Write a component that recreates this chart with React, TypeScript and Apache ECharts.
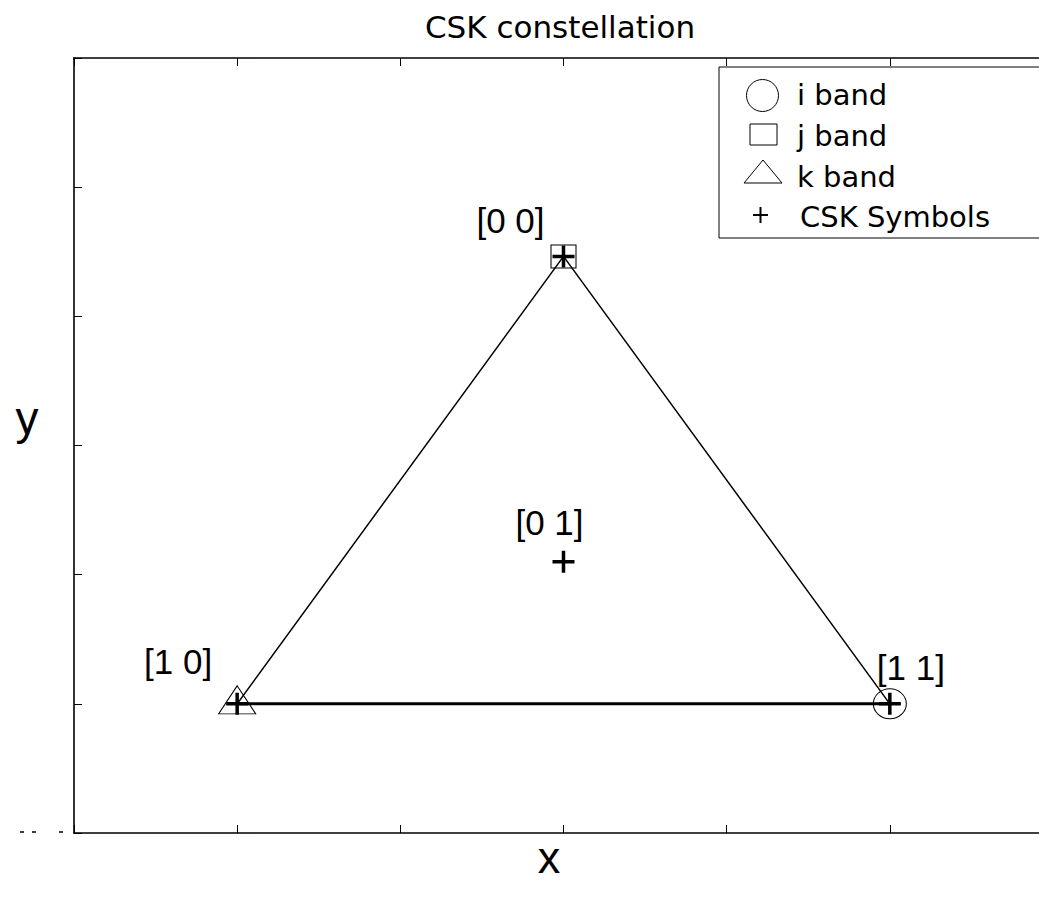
import React, { useEffect, useRef } from "react";
import * as echarts from "echarts";

// ---- data ----
const CSK_X = [0, 0, -1, 1];
const CSK_Y = [1.732, 0.55, 0, 0];
const CSK_LABELS = ["[0 0]", "[0 1]", "[1 0]", "[1 1]"];

const EDGE_X = [-1, 0, 1];
const EDGE_Y = [0, 1.732, 0];
const BASE_X = [-1, 1];
const BASE_Y = [0, 0];

const I_BAND_X = [1];
const I_BAND_Y = [0];
const J_BAND_X = [0];
const J_BAND_Y = [1.732];
const K_BAND_X = [-1];
const K_BAND_Y = [0];

const LEGEND_NAMES = ["i band", "j band", "k band", "CSK Symbols"];
const TITLE = "CSK constellation";
const X_NAME = "x";
const Y_NAME = "y";

const X_MIN = -1.5;
const X_MAX = 1.5;
const Y_MIN = -0.5;
const Y_MAX = 2.5;
const TICK_STEP = 0.5;

// ---- styles (pixel offsets of the text labels) ----
const LABEL_OFFSETS = [
  [-53, -36],
  [-14, -39],
  [-59, -42],
  [21, -36],
];

const PLUS_PATH =
  "path://M9.25,0h3.5v9.25h9.25v3.5h-9.25v9.25h-3.5v-9.25h-9.25v-3.5h9.25z";
const ELLIPSE_PATH = "path://M0,10a10,10 0 1,0 20,0a10,10 0 1,0 -20,0z";

const zip = (xs: number[], ys: number[]) => xs.map((x, i) => [x, ys[i]]);

export default function App() {
  const ref = useRef<HTMLDivElement>(null);
  useEffect(() => {
    if (!ref.current) return;
    const chart = echarts.init(ref.current, null, { renderer: "svg" });
    const axisLine = { show: true, onZero: false, lineStyle: { color: "#000", width: 1.6 } };
    const tick = { show: true, inside: true, length: 8, lineStyle: { color: "#000", width: 1 } };
    const hollow = { color: "rgba(0,0,0,0)", borderColor: "#000", borderWidth: 1, opacity: 1 };
    const legendFont = "DejaVu Sans";
    const legendRows = [95, 136, 177, 217];

    chart.setOption({
      animation: false,
      backgroundColor: "#fff",
      grid: { left: 74, top: 58, width: 979, height: 775, containLabel: false },
      xAxis: [
        {
          type: "value",
          position: "bottom",
          min: X_MIN,
          max: X_MAX,
          interval: TICK_STEP,
          axisLine,
          axisTick: tick,
          axisLabel: { show: false },
          splitLine: { show: false },
        },
        {
          type: "value",
          position: "top",
          min: X_MIN,
          max: X_MAX,
          interval: TICK_STEP,
          axisLine,
          axisTick: tick,
          axisLabel: { show: false },
          splitLine: { show: false },
        },
      ],
      yAxis: [
        {
          type: "value",
          position: "left",
          min: Y_MIN,
          max: Y_MAX,
          interval: TICK_STEP,
          axisLine,
          axisTick: tick,
          axisLabel: { show: false },
          splitLine: { show: false },
        },
      ],
      series: [
        {
          type: "line",
          name: "edges",
          data: zip(EDGE_X, EDGE_Y),
          symbol: "none",
          lineStyle: { color: "#000", width: 1.5 },
          silent: true,
          z: 2,
        },
        {
          type: "line",
          name: "base",
          data: zip(BASE_X, BASE_Y),
          symbol: "none",
          lineStyle: { color: "#000", width: 3 },
          silent: true,
          z: 2,
        },
        {
          type: "scatter",
          name: LEGEND_NAMES[0],
          data: zip(I_BAND_X, I_BAND_Y),
          symbol: ELLIPSE_PATH,
          symbolSize: [33, 30],
          itemStyle: hollow,
          z: 3,
        },
        {
          type: "scatter",
          name: LEGEND_NAMES[1],
          data: zip(J_BAND_X, J_BAND_Y),
          symbol: "rect",
          symbolSize: [25, 23],
          itemStyle: hollow,
          z: 3,
        },
        {
          type: "scatter",
          name: LEGEND_NAMES[2],
          data: zip(K_BAND_X, K_BAND_Y),
          symbol: "triangle",
          symbolSize: [37, 28],
          symbolOffset: [0, -4],
          itemStyle: hollow,
          z: 3,
        },
        {
          type: "scatter",
          name: LEGEND_NAMES[3],
          data: CSK_X.map((x, i) => ({
            value: [x, CSK_Y[i]],
            label: { offset: LABEL_OFFSETS[i] },
          })),
          symbol: PLUS_PATH,
          symbolSize: 22,
          itemStyle: { color: "#000", opacity: 1 },
          label: {
            show: true,
            position: "inside",
            formatter: (p: any) => CSK_LABELS[p.dataIndex],
            fontFamily: "Liberation Sans, Arial, sans-serif",
            fontSize: 35,
            color: "#000",
            opacity: 1,
            textBorderWidth: 0,
            textBorderColor: "transparent",
            align: "center",
            verticalAlign: "middle",
          },
          z: 4,
        },
      ],
      graphic: [
        {
          type: "text",
          x: 560,
          y: 27,
          style: {
            text: TITLE,
            fontFamily: legendFont,
            fontSize: 31,
            fill: "#000",
            textAlign: "center",
            textVerticalAlign: "middle",
          },
        },
        {
          type: "text",
          x: 549,
          y: 857,
          style: {
            text: X_NAME,
            fontFamily: "Liberation Sans, Arial, sans-serif",
            fontSize: 45,
            fill: "#000",
            textAlign: "center",
            textVerticalAlign: "middle",
          },
        },
        {
          type: "text",
          x: 27,
          y: 418,
          style: {
            text: Y_NAME,
            fontFamily: "Liberation Sans, Arial, sans-serif",
            fontSize: 46,
            fill: "#000",
            textAlign: "center",
            textVerticalAlign: "middle",
          },
        },
        // small clipped tick-label remnants at bottom left
        { type: "line", shape: { x1: 20, y1: 832, x2: 24, y2: 832 }, style: { stroke: "#000", lineWidth: 1.5 } },
        { type: "line", shape: { x1: 32, y1: 832, x2: 36, y2: 832 }, style: { stroke: "#000", lineWidth: 1.5 } },
        { type: "line", shape: { x1: 59, y1: 832, x2: 63, y2: 832 }, style: { stroke: "#000", lineWidth: 1.5 } },
        // legend
        {
          type: "group",
          z: 100,
          children: [
            {
              type: "rect",
              shape: { x: 719, y: 67, width: 400, height: 171 },
              style: { fill: "#fff", stroke: "#000", lineWidth: 1 },
            },
            {
              type: "ellipse",
              shape: { cx: 762.5, cy: 95.5, rx: 16, ry: 16 },
              style: { fill: "none", stroke: "#000", lineWidth: 1 },
            },
            {
              type: "rect",
              shape: { x: 750, y: 124, width: 27, height: 21 },
              style: { fill: "none", stroke: "#000", lineWidth: 1 },
            },
            {
              type: "polygon",
              shape: { points: [[744, 183], [782, 183], [763, 160]] },
              style: { fill: "none", stroke: "#000", lineWidth: 1 },
            },
            {
              type: "line",
              shape: { x1: 753, y1: 215, x2: 768, y2: 215 },
              style: { stroke: "#000", lineWidth: 2 },
            },
            {
              type: "line",
              shape: { x1: 760.5, y1: 207, x2: 760.5, y2: 223 },
              style: { stroke: "#000", lineWidth: 2 },
            },
            ...LEGEND_NAMES.map((name, i) => ({
              type: "text",
              x: i === 3 ? 800 : 797,
              y: legendRows[i],
              style: {
                text: name,
                fontFamily: legendFont,
                fontSize: 29,
                fill: "#000",
                textAlign: "left",
                textVerticalAlign: "middle",
              },
            })),
          ],
        },
      ],
    });
    return () => chart.dispose();
  }, []);
  return (
    <div
      style={{
        position: "absolute",
        left: 0,
        top: 0,
        width: 1039,
        height: 901,
        overflow: "hidden",
        background: "#fff",
      }}
    >
      <div ref={ref} style={{ width: 1070, height: 901 }} />
    </div>
  );
}
